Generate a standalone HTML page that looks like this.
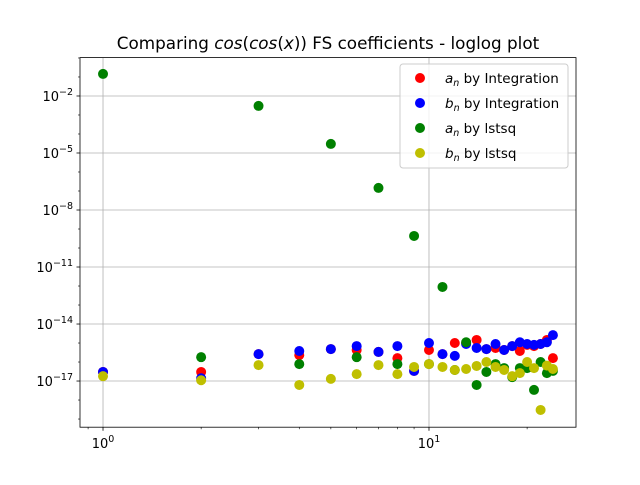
<!DOCTYPE html>
<html><head><meta charset="utf-8"><style>
body{margin:0;background:#fff;}
svg text{font-family:"DejaVu Sans","Liberation Sans",sans-serif;}
</style></head><body>
<svg id="chart" width="640" height="480" xmlns="http://www.w3.org/2000/svg">
<rect width="640" height="480" fill="#fff"/>
<text x="328" y="49" font-size="16.8" text-anchor="middle">Comparing <tspan font-style="italic">cos</tspan>(<tspan font-style="italic">cos</tspan>(<tspan font-style="italic">x</tspan>)) FS coefficients - loglog plot</text>
<g id="grid"></g><g id="marks"></g><g id="axes"></g>
<g>
<rect x="400" y="64" width="168" height="104" rx="3" fill="#fff" fill-opacity="0.8" stroke="#ccc"/>
<g><circle cx="420" cy="78" r="5" fill="red"/><text x="445" y="83" font-size="13.5"><tspan font-style="italic">a</tspan><tspan font-style="italic" font-size="9.5" dy="3">n</tspan><tspan dy="-3"> by Integration</tspan></text></g>
<g><circle cx="420" cy="103" r="5" fill="blue"/><text x="445" y="108" font-size="13.5"><tspan font-style="italic">b</tspan><tspan font-style="italic" font-size="9.5" dy="3">n</tspan><tspan dy="-3"> by Integration</tspan></text></g>
<g><circle cx="420" cy="128" r="5" fill="green"/><text x="445" y="133" font-size="13.5"><tspan font-style="italic">a</tspan><tspan font-style="italic" font-size="9.5" dy="3">n</tspan><tspan dy="-3"> by lstsq</tspan></text></g>
<g><circle cx="420" cy="153" r="5" fill="#bfbf00"/><text x="445" y="158" font-size="13.5"><tspan font-style="italic">b</tspan><tspan font-style="italic" font-size="9.5" dy="3">n</tspan><tspan dy="-3"> by lstsq</tspan></text></g>
</g>
</svg>
<script>
const nValues=[1,2,3,4,5,6,7,8,9,10,11,12,13,14,15,16,17,18,19,20,21,22,23,24];
const anInt=[3.0e-17,3.0e-17,2.6e-16,2.3e-16,4.8e-16,4.3e-16,3.4e-16,1.6e-16,3.4e-17,4.3e-16,2.6e-16,1.0e-15,1.0e-15,1.45e-15,4.8e-16,5.5e-16,4.3e-16,6.9e-16,3.8e-16,8.0e-16,6.9e-16,8.9e-16,1.45e-15,1.6e-16];
const bnInt=[3.0e-17,1.4e-17,2.6e-16,3.8e-16,4.8e-16,6.9e-16,3.4e-16,6.9e-16,3.4e-17,1.0e-15,2.6e-16,2.1e-16,8.9e-16,5.5e-16,4.8e-16,8.9e-16,4.3e-16,6.9e-16,1.1e-15,8.9e-16,8.0e-16,8.9e-16,1.1e-15,2.6e-15];
const anLst=[0.145,1.8e-16,3e-3,7.8e-17,3e-5,1.8e-16,1.45e-7,7.8e-17,4.3e-10,7.8e-17,8.9e-13,3.8e-17,1.1e-15,6.2e-18,3.0e-17,7.8e-17,4.8e-17,1.6e-17,4.8e-17,4.8e-17,3.4e-18,1.0e-16,2.6e-17,3.4e-17];
const bnLst=[1.8e-17,1.1e-17,6.9e-17,6.2e-18,1.3e-17,2.3e-17,6.9e-17,2.3e-17,5.5e-17,7.8e-17,5.5e-17,3.8e-17,4.3e-17,6.2e-17,1.0e-16,5.5e-17,3.8e-17,1.8e-17,2.6e-17,1.0e-16,4.8e-17,3e-19,6.5e-17,4.3e-17];
const yTickExps=[-17,-14,-11,-8,-5,-2];
const xTickExps=[0,1];
const NS="http://www.w3.org/2000/svg";
const L=80,R=576,T=57.6,B=427.2;
const xMin=-0.0706,xMax=1.451,yMin=-19.43,yMax=0.02;
function xs(v){return L+(Math.log10(v)-xMin)/(xMax-xMin)*(R-L);}
function ys(v){return B-(Math.log10(v)-yMin)/(yMax-yMin)*(B-T);}
function mk(tag,attrs,parent){const e=document.createElementNS(NS,tag);for(const k in attrs)e.setAttribute(k,attrs[k]);parent.appendChild(e);return e;}
const grid=document.getElementById('grid'),marks=document.getElementById('marks'),axes=document.getElementById('axes');
yTickExps.forEach(e=>{const y=ys(Math.pow(10,e));
 const g=mk('line',{x1:L,x2:R,y1:y,y2:y,stroke:'#b0b0b0','stroke-width':0.8},grid);
 
 
 mk('line',{x1:L-3.5,x2:L,y1:y,y2:y,stroke:'#000','stroke-width':0.8},axes);
 const t=mk('text',{x:L-7,y:y+5,'font-size':'13','text-anchor':'end'},axes);
 
 
 t.innerHTML='10<tspan font-size="9.5" dy="-6">\u2212'+Math.abs(e)+'</tspan>';
});
for(let e=-19;e<=0;e++){if(yTickExps.includes(e))continue;const y=ys(Math.pow(10,e));if(y<T||y>B)continue;mk('line',{x1:L-2,x2:L,y1:y,y2:y,stroke:'#000','stroke-width':0.6},axes);}
xTickExps.forEach(e=>{const x=xs(Math.pow(10,e));
 const g=mk('line',{x1:x,x2:x,y1:T,y2:B,stroke:'#b0b0b0','stroke-width':0.8},grid);
 
 
 mk('line',{x1:x,x2:x,y1:B,y2:B+3.5,stroke:'#000','stroke-width':0.8},axes);
 const t=mk('text',{x:x,y:B+21,'font-size':'13','text-anchor':'middle'},axes);
 
 
 t.innerHTML='10<tspan font-size="9.5" dy="-6">'+e+'</tspan>';
});
[0.9,2,3,4,5,6,7,8,9,20,30].forEach(v=>{const x=xs(v);if(x<L||x>R)return;mk('line',{x1:x,x2:x,y1:B,y2:B+2,stroke:'#000','stroke-width':0.6},axes);});
const frame=mk('rect',{x:L,y:T,width:R-L,height:B-T,fill:'none',stroke:'#000','stroke-width':0.8},axes);


const series=[[anInt,'red','an-integration'],[bnInt,'blue','bn-integration'],[anLst,'green','an-lstsq'],[bnLst,'#bfbf00','bn-lstsq']];
series.forEach(([vals,col,name])=>{
 const g=mk('g',{},marks);
 
 
 vals.forEach((v,i)=>{
  const c=mk('circle',{cx:xs(nValues[i]),cy:ys(v),r:5,fill:col},g);
  
  
 });
});
</script>
</body></html>
